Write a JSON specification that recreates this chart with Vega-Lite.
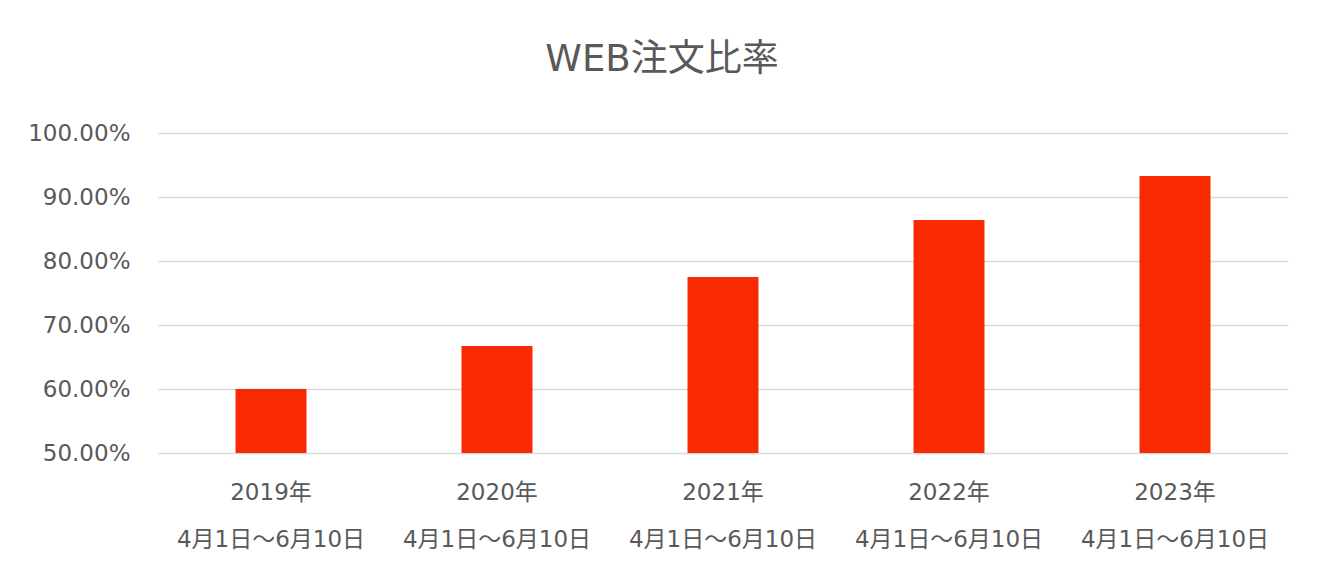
{
  "$schema": "https://vega.github.io/schema/vega-lite/v6.json",
  "width": 1130,
  "height": 320,
  "autosize": {"type": "none"},
  "padding": {"left": 158, "top": 133, "right": 31, "bottom": 125},
  "background": "white",
  "title": {
    "text": "WEB注文比率",
    "fontSize": 37,
    "font": "DejaVu Sans, Noto Sans CJK JP",
    "fontWeight": "normal",
    "color": "#595959",
    "dx": -61,
    "offset": 43,
    "anchor": "middle"
  },
  "data": {
    "values": [
      {"period": "2019年|4月1日～6月10日", "rate": 0.600},
      {"period": "2020年|4月1日～6月10日", "rate": 0.667},
      {"period": "2021年|4月1日～6月10日", "rate": 0.775},
      {"period": "2022年|4月1日～6月10日", "rate": 0.864},
      {"period": "2023年|4月1日～6月10日", "rate": 0.933}
    ]
  },
  "mark": {"type": "bar", "color": "#F92A00", "clip": true},
  "encoding": {
    "x": {
      "field": "period",
      "type": "nominal",
      "sort": null,
      "scale": {"paddingInner": 0.686, "paddingOuter": 0.343},
      "axis": {
        "title": null,
        "labelAngle": 0,
        "labelExpr": "split(datum.label, '|')",
        "labelOverlap": false,
        "labelBound": false,
        "labelLimit": 0,
        "ticks": false,
        "domain": false,
        "grid": false,
        "labelPadding": 28,
        "labelLineHeight": 47
      }
    },
    "y": {
      "field": "rate",
      "type": "quantitative",
      "scale": {"domain": [0.5, 1.0], "zero": false, "nice": false},
      "axis": {
        "title": null,
        "format": ".2%",
        "values": [0.5, 0.6, 0.7, 0.8, 0.9, 1.0],
        "domain": false,
        "ticks": false,
        "labelPadding": 28,
        "gridColor": "#d9d9d9",
        "gridWidth": 1.5
      }
    }
  },
  "config": {
    "view": {"stroke": null},
    "axis": {
      "labelFont": "DejaVu Sans, Noto Sans CJK JP",
      "labelFontSize": 23,
      "labelColor": "#595959"
    }
  }
}
